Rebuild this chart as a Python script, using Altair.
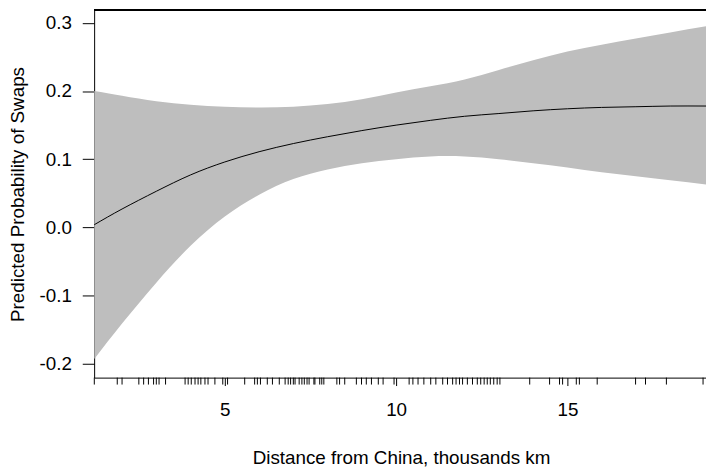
import altair as alt
import pandas as pd

# Smooth term: distance from China (thousands km)
dist = [1.19, 2, 3, 4, 5, 6, 7, 8, 9, 10, 11, 12, 13, 14, 15, 16, 17, 18, 19.05]
fit = [0.004, 0.027, 0.053, 0.077, 0.096, 0.111, 0.123, 0.133, 0.142, 0.150,
       0.157, 0.163, 0.167, 0.171, 0.174, 0.176, 0.177, 0.178, 0.178]
upper = [0.200, 0.193, 0.185, 0.180, 0.177, 0.176, 0.177, 0.181, 0.188, 0.198,
         0.207, 0.217, 0.231, 0.245, 0.258, 0.268, 0.277, 0.286, 0.295]
lower = [-0.193, -0.141, -0.081, -0.027, 0.016, 0.048, 0.071, 0.085, 0.094, 0.100,
         0.104, 0.104, 0.100, 0.094, 0.088, 0.081, 0.075, 0.069, 0.063]

# Rug of observed distances
rug = [1.19, 1.86, 2.00, 2.49, 2.63, 2.77, 2.92, 3.00, 3.08, 3.27, 3.84, 3.93, 4.02,
       4.13, 4.22, 4.30, 4.42, 4.51, 4.71, 4.94, 5.08, 5.58, 5.87, 5.95, 6.04, 6.24,
       6.39, 6.59, 6.76, 6.85, 6.92, 7.00, 7.05, 7.17, 7.25, 7.32, 7.40, 7.46, 7.60,
       7.63, 7.77, 7.83, 7.89, 8.27, 8.35, 8.50, 8.84, 8.99, 9.13, 9.28, 9.48, 9.62,
       9.94, 10.38, 10.49, 10.64, 10.81, 11.01, 11.16, 11.36, 11.50, 11.65, 11.75,
       11.85, 11.94, 12.08, 12.23, 12.37, 12.47, 12.57, 12.66, 12.75, 12.85, 12.95,
       13.03, 13.90, 14.48, 14.77, 14.86, 15.26, 15.35, 15.87, 16.99, 17.28, 17.89,
       18.96]

x_ticks = [5, 10, 15]
y_ticks = [-0.2, -0.1, 0.0, 0.1, 0.2, 0.3]

W, H = 618, 371

df = pd.DataFrame({"dist": dist, "fit": fit, "upper": upper, "lower": lower})
rug_df = pd.DataFrame({"dist": rug})

FONT = "Liberation Sans"
xscale = alt.Scale(domain=[1.185, 19.046], nice=False, zero=False)
yscale = alt.Scale(domain=[-0.2203, 0.3184], nice=False, zero=False)

xaxis = alt.Axis(values=x_ticks, format="d", grid=False, tickSize=8, labelPadding=15,
                 title="Distance from China, thousands km", titleX=310, titleY=87,
                 titleBaseline="alphabetic", titleAlign="center")
yaxis = alt.Axis(values=y_ticks, grid=False, tickSize=12, labelPadding=11,
                 labelExpr="datum.value < 0 ? '-' + format(-datum.value, '.1f') : format(datum.value, '.1f')",
                 title="Predicted Probability of Swaps", titleAngle=270, titleX=-86,
                 titleY=H / 2, titleAlign="center", titleBaseline="top")

x_enc = alt.X("dist:Q", scale=xscale, axis=xaxis)
y_ax = alt.Y("lower:Q", scale=yscale, axis=yaxis)

band = alt.Chart(df).mark_area(color="#BEBEBE", interpolate="natural").encode(
    x=x_enc, y=y_ax, y2="upper:Q")

line = alt.Chart(df).mark_line(color="black", strokeWidth=1, interpolate="natural").encode(
    x=x_enc, y=alt.Y("fit:Q", scale=yscale, axis=yaxis))

rug_layer = alt.Chart(rug_df).mark_rule(color="black", strokeWidth=1).encode(
    x=x_enc, y=alt.value(H), y2=alt.value(H + 7))

top = alt.Chart(rug_df).mark_rule(color="black", strokeWidth=1).encode(
    x=alt.value(0), x2=alt.value(W), y=alt.value(0))

chart = alt.layer(band, line, rug_layer, top).properties(
    width=W, height=H,
    autosize=alt.AutoSizeParams(type="none"),
    padding={"left": 87, "top": 0, "right": 0, "bottom": 95},
    background="white",
).configure_view(stroke=None).configure_axis(
    labelFont=FONT, labelFontSize=19, labelColor="black",
    titleFont=FONT, titleFontSize=19, titleFontWeight="normal", titleColor="black",
    domainColor="black", tickColor="black", domainWidth=1, tickWidth=1,
)

chart.save("out.html", embed_options={"renderer": "svg", "actions": False})
